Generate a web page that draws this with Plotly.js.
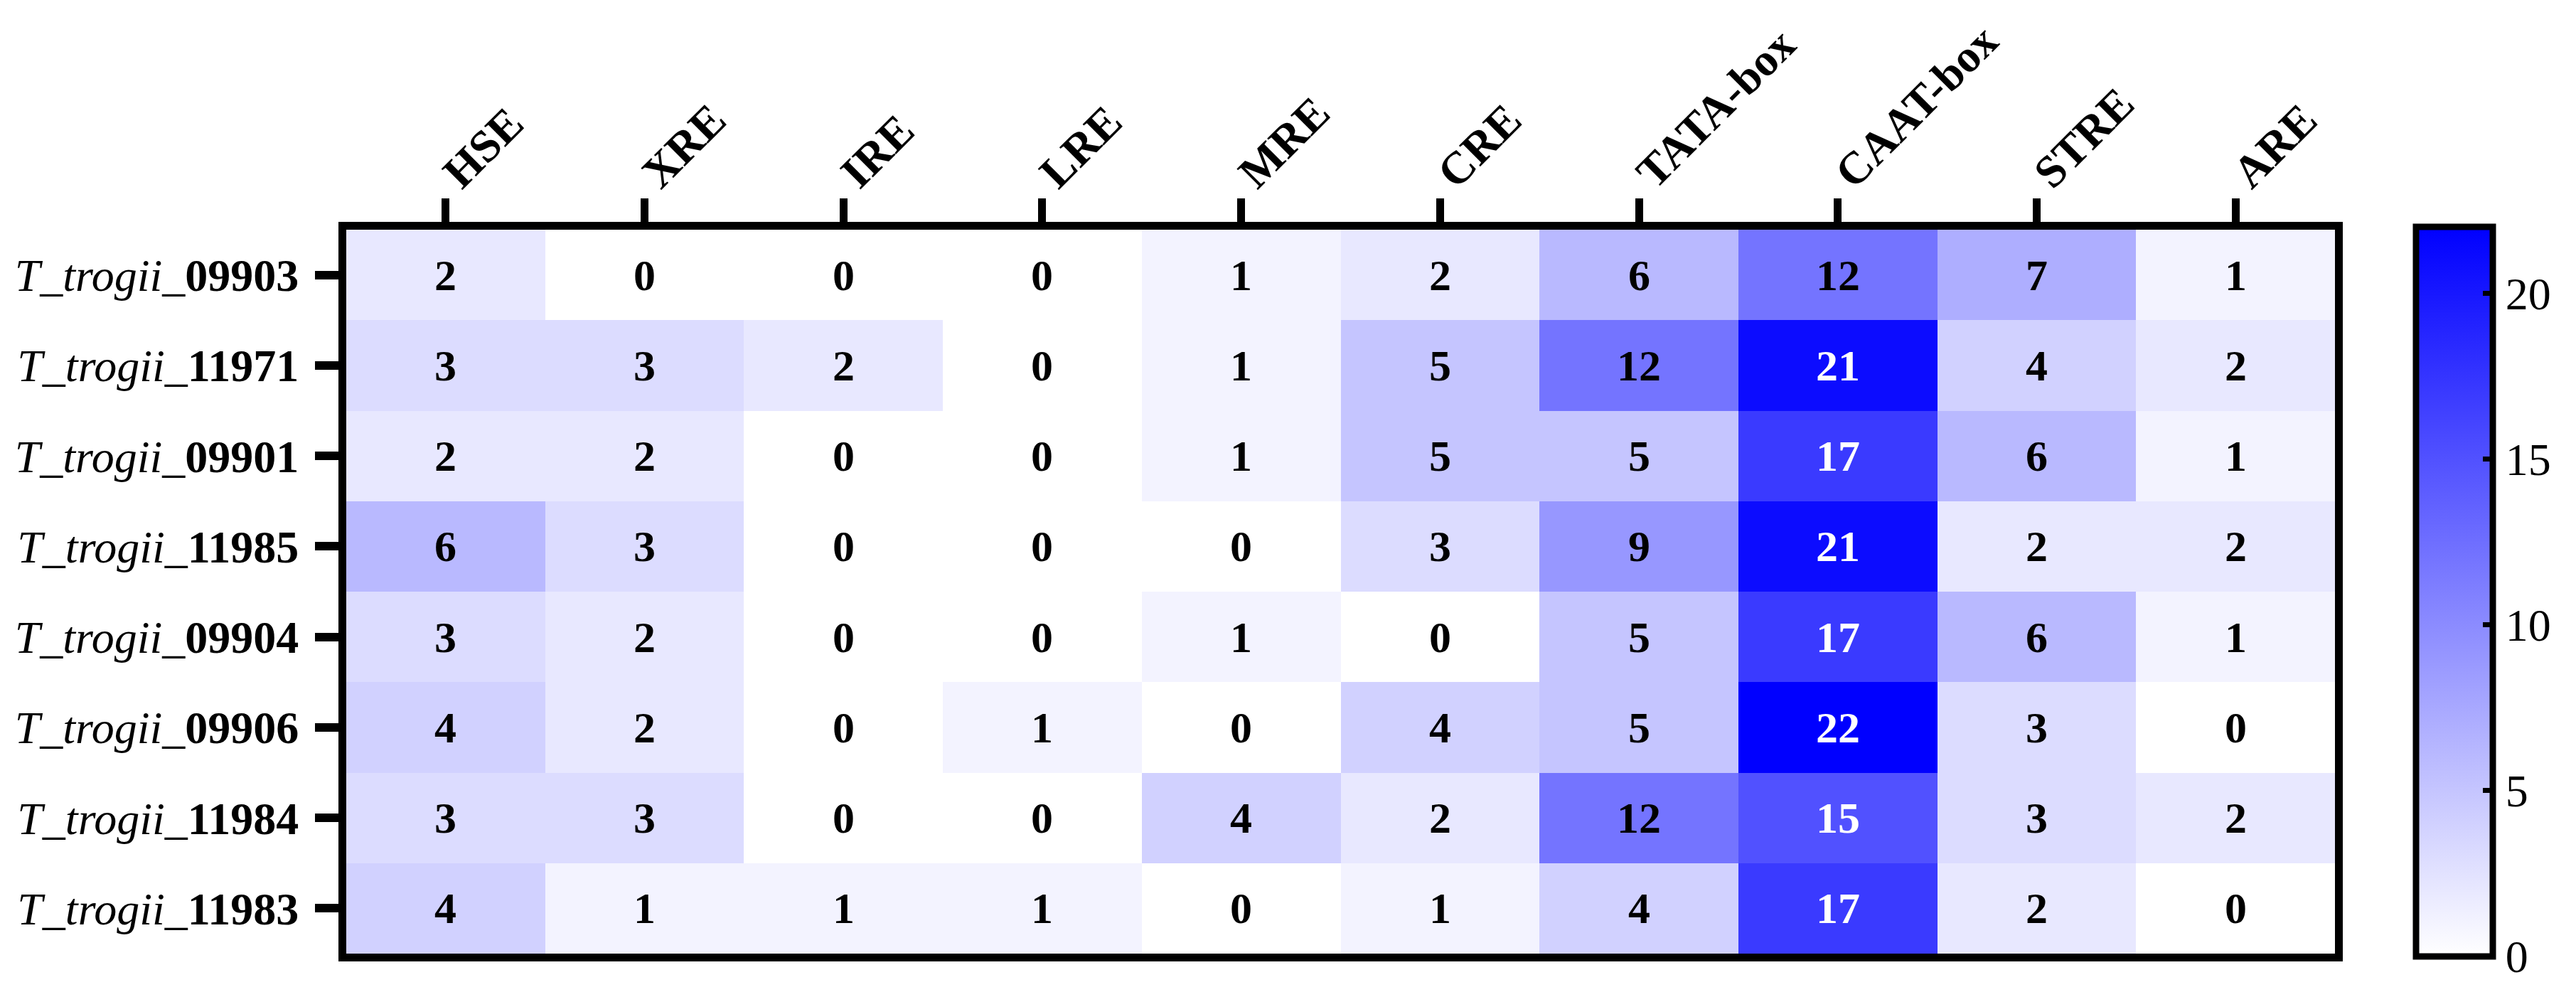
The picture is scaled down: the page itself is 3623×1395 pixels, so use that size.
<!DOCTYPE html>
<html>
<head>
<meta charset="utf-8">
<script src="https://cdn.plot.ly/plotly-3.0.1.min.js"></script>
<style>html,body{margin:0;padding:0;background:#fff;}#chart{width:3623px;height:1395px;}</style>
</head>
<body>
<div id="chart"></div>
<script>
// Data
const elements = ["HSE", "XRE", "IRE", "LRE", "MRE", "CRE", "TATA-box", "CAAT-box", "STRE", "ARE"];
const genes = ["09903", "11971", "09901", "11985", "09904", "09906", "11984", "11983"];
const v09903 = [2, 0, 0, 0, 1, 2, 6, 12, 7, 1];
const v11971 = [3, 3, 2, 0, 1, 5, 12, 21, 4, 2];
const v09901 = [2, 2, 0, 0, 1, 5, 5, 17, 6, 1];
const v11985 = [6, 3, 0, 0, 0, 3, 9, 21, 2, 2];
const v09904 = [3, 2, 0, 0, 1, 0, 5, 17, 6, 1];
const v09906 = [4, 2, 0, 1, 0, 4, 5, 22, 3, 0];
const v11984 = [3, 3, 0, 0, 4, 2, 12, 15, 3, 2];
const v11983 = [4, 1, 1, 1, 0, 1, 4, 17, 2, 0];
const colorbarTicks = [0, 5, 10, 15, 20];

const z = [v09903, v11971, v09901, v11985, v09904, v09906, v11984, v11983];
const yLabels = genes.map(g => "<i>T</i>_<i>trogii</i>_<b>" + g + "</b>");

const FONT = "Liberation Serif, Times New Roman, serif";

const annotations = [];
z.forEach((row, i) => {
  row.forEach((val, j) => {
    annotations.push({
      x: elements[j], y: yLabels[i], xref: "x", yref: "y",
      text: "<b>" + val + "</b>", showarrow: false,
      font: {family: FONT, size: 62, color: val >= 14 ? "#ffffff" : "#000000"}
    });
  });
});

const trace = {
  type: "heatmap",
  x: elements,
  y: yLabels,
  z: z,
  zmin: 0, zmax: 22,
  colorscale: [[0, "#ffffff"], [1, "#0000ff"]],
  xgap: 0, ygap: 0,
  hoverinfo: "skip",
  colorbar: {
    x: 1.0408, xanchor: "left", xpad: 0,
    y: 0.5, yanchor: "middle", ypad: 0,
    lenmode: "pixels", len: 1026,
    thicknessmode: "pixels", thickness: 108,
    outlinewidth: 9, outlinecolor: "#000000",
    tickvals: colorbarTicks,
    ticks: "inside", ticklen: 18, tickwidth: 7, tickcolor: "#000000",
    ticklabelposition: "outside",
    tickfont: {family: FONT, size: 64, color: "#000000"},
    ticklabelstandoff: 34
  }
};

const layout = {
  width: 3623, height: 1395,
  margin: {l: 487, r: 339, t: 323, b: 54, autoexpand: false},
  paper_bgcolor: "#ffffff", plot_bgcolor: "#ffffff",
  font: {family: FONT, color: "#000000"},
  xaxis: {
    side: "top", type: "category",
    tickangle: -45,
    ticks: "outside", ticklen: 33, tickwidth: 11, tickcolor: "#000000",
    showline: true, linewidth: 11, linecolor: "#000000", mirror: true,
    showgrid: false, zeroline: false,
    tickfont: {family: FONT, size: 64, color: "#000000", weight: "bold"},
    ticklabelstandoff: -24
  },
  yaxis: {
    type: "category", autorange: "reversed",
    ticks: "outside", ticklen: 33, tickwidth: 12, tickcolor: "#000000",
    showline: true, linewidth: 11, linecolor: "#000000", mirror: true,
    showgrid: false, zeroline: false,
    tickfont: {family: FONT, size: 64, color: "#000000"},
    ticklabelstandoff: 10
  },
  annotations: annotations,
  showlegend: false
};

Plotly.newPlot("chart", [trace], layout, {displayModeBar: false, staticPlot: true});
</script>
</body>
</html>
